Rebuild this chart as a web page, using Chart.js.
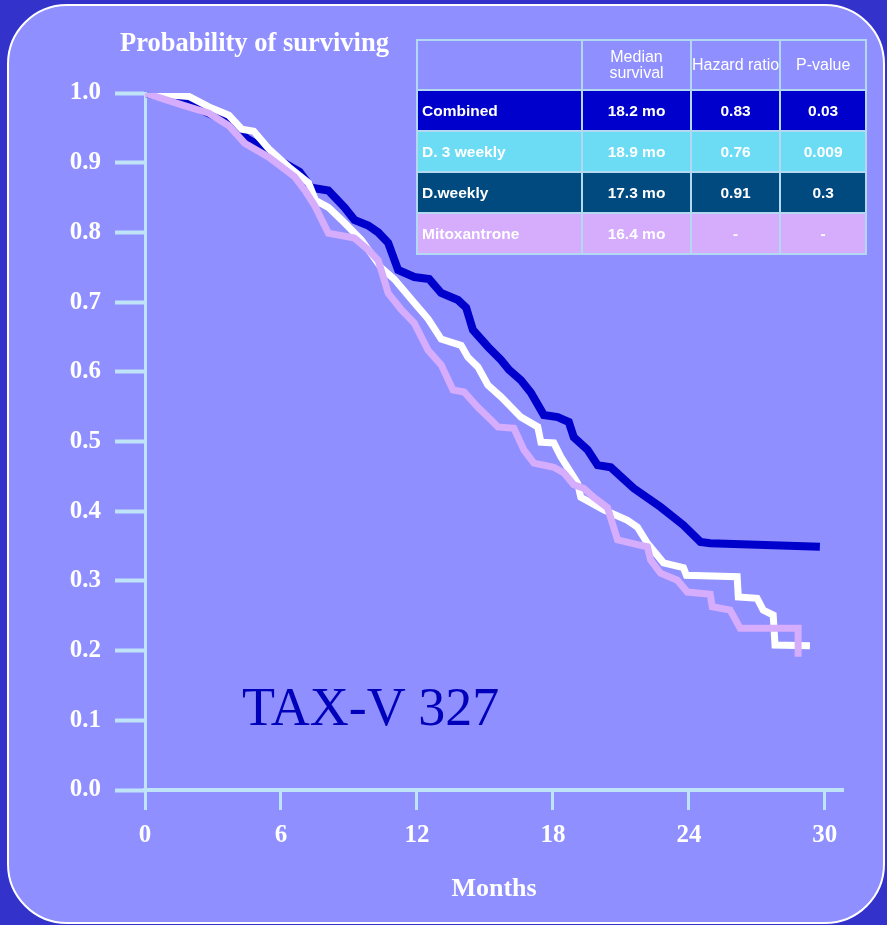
<!DOCTYPE html>
<html>
<head>
<meta charset="utf-8">
<script src="https://cdn.jsdelivr.net/npm/chart.js@4.4.1/dist/chart.umd.min.js"></script>
<style>
  html, body { margin: 0; padding: 0; }
  body { width: 887px; height: 925px; background: #3333cc; position: relative; overflow: hidden; }
  #panel {
    position: absolute; left: 7px; top: 4px; width: 874px; height: 916px;
    background: #8f8fff; border: 2px solid #ffffff; border-radius: 60px;
  }
  #survChart { position: absolute; left: 0; top: 0; }
  .lbl { position: absolute; font-family: "Liberation Serif", "Times New Roman", serif; white-space: nowrap; }
  #ytitle { left: 120px; top: 27px; font-size: 26.5px; font-weight: bold; color: #fff; line-height: 30px; }
  #study { left: 242px; top: 677px; font-size: 54px; color: #0000bb; line-height: 60px; }
  table {
    position: absolute; left: 416px; top: 39px; border-collapse: collapse; table-layout: fixed;
    font-family: "Liberation Sans", Arial, sans-serif; color: #fff;
  }
  td { border: 2px solid #b3d9f2; text-align: center; padding: 0; overflow: hidden; white-space: nowrap; }
  thead td { height: 48px; font-size: 16px; line-height: 16px; font-weight: normal; }
  tbody td { height: 39px; font-size: 15.5px; font-weight: bold; }
  tbody td:first-child { text-align: left; padding-left: 4px; }
  td.clip { text-align: left; }
</style>
</head>
<body>
<div id="panel"></div>
<canvas id="survChart" width="887" height="925"></canvas>
<div class="lbl" id="ytitle">Probability of surviving</div>
<div class="lbl" id="study">TAX-V 327</div>
<table id="stats">
  <thead>
    <tr><td style="width:163px"></td><td style="width:107px">Median<br>survival</td><td class="clip" style="width:84px">Hazard ratio</td><td style="width:84px">P-value</td></tr>
  </thead>
  <tbody id="statsBody"></tbody>
</table>

<script>
// ---- donnees ----
var combinedMonths = [0, 1.85, 3.39, 4.49, 5.15, 6.12, 6.82, 7.35, 8.09, 8.80, 9.24, 9.85, 10.29, 10.73, 11.17, 11.88, 12.54, 13.07, 13.81, 14.17, 14.47, 15.13, 15.71, 16.06, 16.59, 17.03, 17.60, 18.21, 18.70, 18.92, 19.53, 19.97, 20.55, 21.56, 22.75, 23.76, 24.51, 24.94, 29.78];
var combinedSurv = [1.0, 0.985, 0.962, 0.935, 0.922, 0.900, 0.887, 0.864, 0.860, 0.836, 0.818, 0.810, 0.800, 0.785, 0.746, 0.736, 0.733, 0.713, 0.703, 0.692, 0.660, 0.636, 0.617, 0.603, 0.588, 0.570, 0.538, 0.535, 0.528, 0.506, 0.488, 0.466, 0.463, 0.433, 0.406, 0.380, 0.356, 0.354, 0.349];

var whiteMonths = [0, 1.94, 2.82, 3.70, 4.27, 4.80, 5.46, 6.34, 7.22, 7.52, 8.09, 8.67, 9.55, 10.43, 11.00, 11.88, 12.49, 13.07, 13.95, 14.25, 14.69, 15.13, 15.71, 16.59, 17.33, 17.47, 18.04, 18.35, 19.09, 19.23, 20.24, 21.29, 21.73, 22.17, 22.88, 23.76, 23.89, 26.13, 26.18, 27.01, 27.28, 27.72, 27.80, 29.34];
var whiteSurv = [1.0, 0.995, 0.980, 0.968, 0.948, 0.945, 0.920, 0.894, 0.871, 0.846, 0.836, 0.818, 0.789, 0.749, 0.733, 0.699, 0.676, 0.647, 0.638, 0.621, 0.607, 0.581, 0.564, 0.535, 0.521, 0.499, 0.498, 0.478, 0.440, 0.420, 0.402, 0.387, 0.377, 0.354, 0.326, 0.319, 0.308, 0.306, 0.277, 0.275, 0.258, 0.251, 0.208, 0.207];

var mitoMonths = [0, 1.63, 2.82, 3.70, 4.40, 5.46, 6.60, 7.04, 7.48, 8.09, 9.24, 9.85, 10.29, 10.73, 11.31, 11.88, 12.49, 13.07, 13.59, 14.08, 14.69, 15.27, 15.57, 16.28, 16.72, 17.16, 18.04, 18.48, 18.92, 19.36, 19.80, 20.41, 20.85, 21.73, 22.17, 22.31, 22.75, 23.49, 23.93, 24.94, 25.03, 25.82, 26.26, 28.82, 28.82];
var mitoSurv = [1.0, 0.983, 0.971, 0.953, 0.928, 0.908, 0.880, 0.861, 0.839, 0.799, 0.792, 0.775, 0.760, 0.713, 0.689, 0.670, 0.631, 0.610, 0.574, 0.571, 0.549, 0.531, 0.521, 0.519, 0.488, 0.469, 0.463, 0.455, 0.438, 0.433, 0.420, 0.405, 0.359, 0.352, 0.349, 0.330, 0.311, 0.301, 0.284, 0.281, 0.263, 0.258, 0.232, 0.232, 0.191];

var monthTicks = [0, 6, 12, 18, 24, 30];

// tableau des resultats
var groupes = ['Combined', 'D. 3 weekly', 'D.weekly', 'Mitoxantrone'];
var medianes = ['18.2 mo', '18.9 mo', '17.3 mo', '16.4 mo'];
var hazardRatios = ['0.83', '0.76', '0.91', '-'];
var pValues = ['0.03', '0.009', '0.3', '-'];
var couleursGroupes = ['#0000cc', '#6cdcf5', '#004a80', '#d6acfc'];

// remplir le tableau
var tbody = document.getElementById('statsBody');
groupes.forEach(function(g, i) {
    var tr = document.createElement('tr');
    tr.style.background = couleursGroupes[i];
    [g, medianes[i], hazardRatios[i], pValues[i]].forEach(function(t) {
        var td = document.createElement('td');
        td.textContent = t;
        tr.appendChild(td);
    });
    tbody.appendChild(tr);
});

function toPoints(xs, ys) {
    return xs.map(function(x, i) { return { x: x, y: ys[i] }; });
}

var axisColor = '#bfe3f7';
var tickFont = { family: 'Liberation Serif', size: 25, weight: 'bold' };

var ctx = document.getElementById('survChart').getContext('2d');
var survChart = new Chart(ctx, {
    type: 'line',
    data: {
        datasets: [{
            label: 'Combined',
            data: toPoints(combinedMonths, combinedSurv),
            borderColor: '#0000cc',
            borderWidth: 8,
            order: 3
        }, {
            label: 'Docetaxel',
            data: toPoints(whiteMonths, whiteSurv),
            borderColor: '#ffffff',
            borderWidth: 7,
            order: 2
        }, {
            label: 'Mitoxantrone',
            data: toPoints(mitoMonths, mitoSurv),
            borderColor: '#d6acfc',
            borderWidth: 7,
            order: 1
        }]
    },
    options: {
        responsive: false,
        animation: false,
        elements: {
            point: { radius: 0 },
            line: { tension: 0, borderJoinStyle: 'miter' }
        },
        layout: { padding: { left: 0, top: 93, right: 44, bottom: 20 } },
        plugins: {
            legend: { display: false },
            tooltip: { enabled: false }
        },
        scales: {
            x: {
                type: 'linear',
                min: 0,
                max: 30.8,
                afterFit: function(scale) { scale.height = 115; },
                afterBuildTicks: function(scale) {
                    scale.ticks = monthTicks.map(function(v) { return { value: v }; });
                },
                border: { color: axisColor, width: 4 },
                grid: { drawOnChartArea: false, color: axisColor, tickLength: 20, tickWidth: 3, tickColor: axisColor },
                ticks: { color: '#ffffff', font: tickFont, padding: 11, maxRotation: 0 },
                title: {
                    display: true,
                    text: 'Months',
                    color: '#ffffff',
                    font: { family: 'Liberation Serif', size: 26, weight: 'bold' },
                    padding: 0
                }
            },
            y: {
                min: 0,
                max: 1,
                afterFit: function(scale) { scale.width = 145; },
                border: { color: axisColor, width: 3 },
                grid: { drawOnChartArea: false, color: axisColor, tickLength: 30, tickWidth: 4, tickColor: axisColor },
                ticks: {
                    stepSize: 0.1,
                    color: '#ffffff',
                    font: tickFont,
                    padding: 14,
                    callback: function(v) { return v.toFixed(1); }
                }
            }
        }
    }
});
</script>
</body>
</html>
